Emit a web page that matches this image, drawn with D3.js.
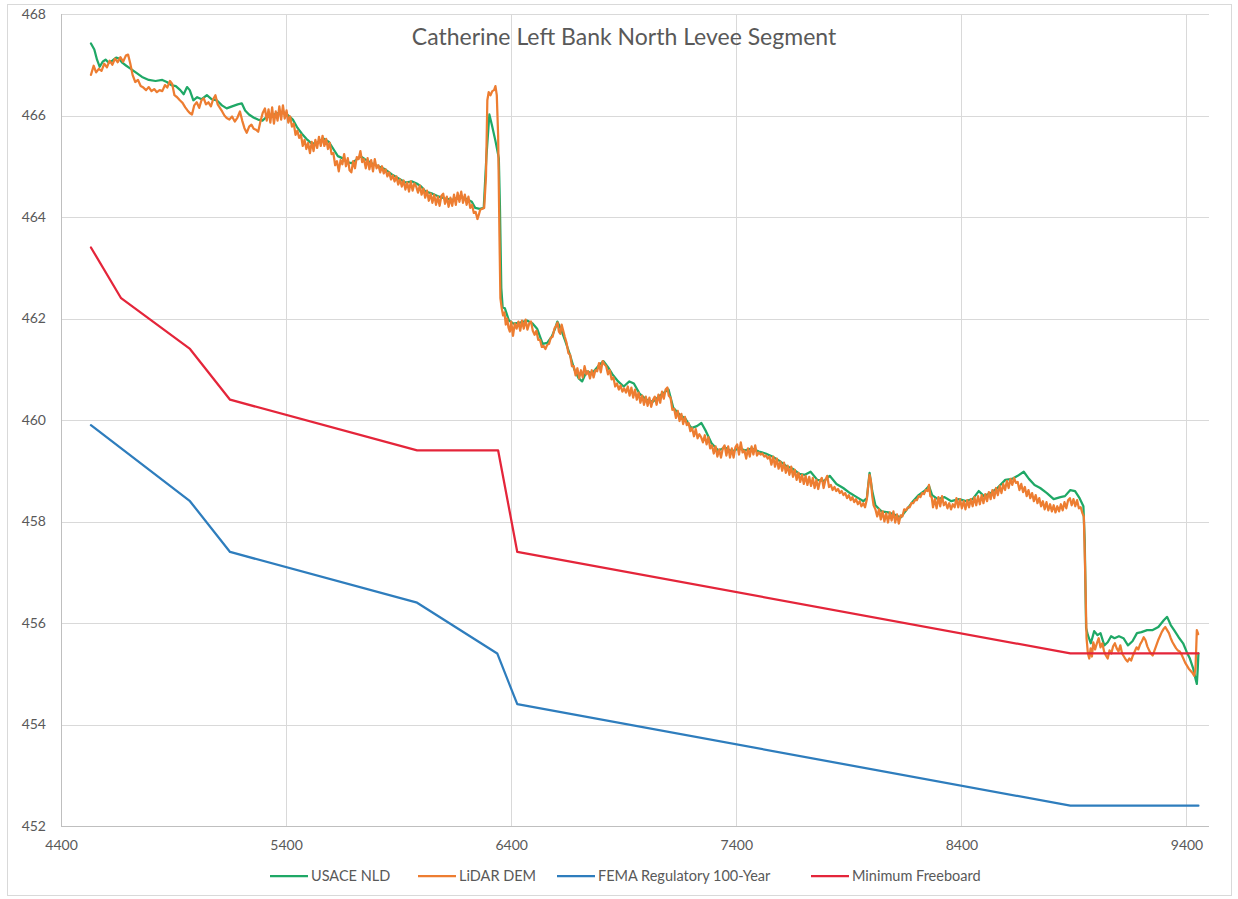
<!DOCTYPE html>
<html>
<head>
<meta charset="utf-8">
<script src="https://cdn.jsdelivr.net/npm/d3@7"></script>
<style>
  html, body { margin: 0; padding: 0; background: #ffffff; }
  svg text { font-family: Lato, "Open Sans", "Liberation Sans", sans-serif; }
</style>
</head>
<body>
<svg id="chart" width="1238" height="899"></svg>
<script>
const chartTitle = "Catherine Left Bank North Levee Segment";
const seriesNames = ["USACE NLD", "LiDAR DEM", "FEMA Regulatory 100-Year", "Minimum Freeboard"];
const xTicks = [4400, 5400, 6400, 7400, 8400, 9400];
const yTicks = [452, 454, 456, 458, 460, 462, 464, 466, 468];

const usaceNld = [
[4533,467.42],[4548,467.30],[4560,467.10],[4572,466.96],[4585,467.06],[4598,467.10],[4612,467.04],[4628,467.08],[4645,467.14],[4658,467.12],[4672,467.04],[4690,466.98],[4710,466.92],[4735,466.84],[4760,466.76],[4790,466.70],[4820,466.68],[4850,466.70],[4870,466.66],[4890,466.60],[4910,466.58],[4930,466.50],[4945,466.42],[4960,466.56],[4972,466.50],[4988,466.30],[5005,466.36],[5025,466.32],[5048,466.40],[5070,466.32],[5092,466.30],[5115,466.20],[5136,466.14],[5160,466.18],[5185,466.22],[5203,466.24],[5218,466.10],[5235,466.02],[5255,465.96],[5275,465.92],[5295,465.90],[5310,465.96],[5330,466.00],[5360,466.04],[5390,466.06],[5410,466.00],[5430,465.92],[5450,465.76],[5470,465.64],[5490,465.54],[5510,465.46],[5530,465.44],[5550,465.50],[5570,465.54],[5590,465.48],[5610,465.34],[5630,465.20],[5650,465.16],[5670,465.08],[5690,465.06],[5710,465.12],[5730,465.20],[5750,465.14],[5780,465.06],[5810,465.00],[5840,464.94],[5870,464.84],[5900,464.76],[5930,464.68],[5960,464.70],[5980,464.66],[6000,464.60],[6020,464.50],[6050,464.46],[6080,464.40],[6110,464.36],[6140,464.34],[6170,464.40],[6200,464.36],[6225,464.30],[6240,464.18],[6260,464.16],[6278,464.18],[6290,465.20],[6303,466.02],[6315,465.80],[6330,465.50],[6345,465.16],[6350,464.20],[6356,462.60],[6362,462.22],[6372,462.20],[6390,461.96],[6410,461.90],[6440,461.92],[6470,461.96],[6495,461.90],[6515,461.80],[6540,461.50],[6560,461.52],[6580,461.64],[6595,461.80],[6605,461.94],[6620,461.80],[6640,461.56],[6660,461.30],[6680,461.00],[6700,460.82],[6715,460.76],[6735,460.96],[6760,460.92],[6790,461.08],[6810,461.16],[6830,461.04],[6850,460.90],[6875,460.76],[6900,460.66],[6925,460.76],[6945,460.72],[6970,460.52],[7000,460.40],[7030,460.36],[7060,460.48],[7085,460.56],[7099,460.60],[7120,460.24],[7150,460.10],[7175,460.02],[7200,459.84],[7225,459.88],[7245,459.94],[7265,459.78],[7290,459.54],[7320,459.40],[7350,459.46],[7380,459.38],[7410,459.44],[7440,459.40],[7470,459.44],[7500,459.38],[7530,459.34],[7560,459.28],[7590,459.20],[7620,459.10],[7650,459.04],[7680,458.94],[7705,458.92],[7730,458.98],[7760,458.82],[7790,458.80],[7815,458.90],[7845,458.74],[7875,458.66],[7905,458.56],[7935,458.48],[7965,458.40],[7980,458.46],[7992,458.96],[8004,458.60],[8018,458.32],[8045,458.20],[8075,458.18],[8100,458.14],[8130,458.08],[8158,458.24],[8185,458.40],[8210,458.52],[8240,458.62],[8256,458.70],[8270,458.52],[8295,458.44],[8325,458.48],[8355,458.40],[8390,458.44],[8420,458.40],[8450,458.44],[8477,458.60],[8500,458.50],[8530,458.56],[8560,458.66],[8595,458.82],[8625,458.84],[8650,458.90],[8677,458.98],[8700,458.84],[8725,458.72],[8750,458.66],[8780,458.56],[8810,458.44],[8840,458.48],[8860,458.50],[8884,458.62],[8905,458.60],[8925,458.46],[8942,458.30],[8948,457.60],[8954,455.90],[8962,455.76],[8975,455.60],[8990,455.84],[9005,455.76],[9018,455.80],[9035,455.56],[9050,455.62],[9065,455.74],[9080,455.70],[9100,455.74],[9120,455.70],[9140,455.56],[9160,455.64],[9180,455.80],[9200,455.82],[9225,455.86],[9250,455.86],[9275,455.92],[9300,456.06],[9314,456.12],[9330,455.96],[9345,455.86],[9365,455.72],[9385,455.60],[9400,455.44],[9415,455.30],[9430,455.10],[9440,454.90],[9446,454.80],[9450,455.10],[9453,455.40]
];

const lidarDem = [
[4533,466.80],[4545,466.98],[4556,466.85],[4568,466.92],[4580,466.88],[4592,467.02],[4604,466.95],[4616,467.08],[4628,467.00],[4640,467.12],[4652,467.05],[4664,467.15],[4676,467.06],[4688,467.18],[4698,467.20],[4708,467.02],[4718,466.80],[4730,466.66],[4742,466.70],[4754,466.58],[4766,466.55],[4778,466.50],[4790,466.56],[4802,466.48],[4814,466.52],[4826,466.46],[4838,466.50],[4850,466.48],[4862,466.60],[4872,466.55],[4884,466.68],[4894,466.62],[4904,466.40],[4916,466.36],[4928,466.30],[4940,466.25],[4952,466.16],[4962,466.10],[4972,466.05],[4982,466.02],[4992,466.20],[5003,466.26],[5014,466.15],[5024,466.30],[5034,466.34],[5044,466.22],[5055,466.26],[5066,466.18],[5076,466.32],[5086,466.40],[5096,466.22],[5106,466.15],[5116,466.08],[5126,466.00],[5136,465.95],[5148,465.92],[5160,465.98],[5172,465.88],[5184,465.96],[5195,466.08],[5205,465.90],[5215,465.75],[5225,465.66],[5236,465.78],[5246,465.82],[5256,465.74],[5266,465.72],[5276,465.68],[5286,465.88],[5296,466.05],
[5306,466.14],[5314,465.90],[5322,466.12],[5330,465.86],[5338,466.16],[5346,465.84],[5354,466.08],[5362,465.90],[5370,466.18],[5378,465.92],[5386,466.20],[5394,465.94],[5402,466.10],[5410,465.86],[5418,465.98],[5426,465.78],[5434,465.84],[5442,465.62],[5450,465.70],[5458,465.56],[5466,465.62],[5474,465.40],[5482,465.52],[5490,465.34],[5498,465.46],[5506,465.26],[5514,465.48],[5522,465.30],[5530,465.52],[5538,465.36],[5546,465.58],[5554,465.40],[5562,465.60],[5570,465.40],[5578,465.54],[5586,465.34],[5594,465.46],[5602,465.24],[5610,465.26],[5618,465.02],[5626,465.10],[5634,464.90],[5642,465.12],[5650,465.04],[5658,465.24],[5666,465.00],[5674,465.16],[5682,464.92],[5690,464.88],[5698,465.10],[5706,464.96],[5714,465.18],[5722,465.14],[5730,465.30],[5738,465.08],[5746,465.14],[5754,464.96],[5762,465.16],[5770,464.94],[5778,465.12],[5786,464.90],[5794,465.14],[5802,464.96],[5810,465.02],[5818,464.88],[5826,465.00],[5834,464.86],[5842,464.94],[5850,464.80],[5858,464.88],[5866,464.74],[5874,464.82],[5882,464.70],[5890,464.80],[5898,464.64],[5906,464.74],[5914,464.60],[5922,464.72],[5930,464.54],[5938,464.68],[5946,464.50],[5954,464.70],[5962,464.52],[5970,464.66],[5978,464.60],[5986,464.48],[5994,464.62],[6002,464.44],[6010,464.56],[6018,464.38],[6026,464.52],[6034,464.32],[6042,464.46],[6050,464.28],[6058,464.44],[6066,464.24],[6074,464.40],[6082,464.22],[6090,464.42],[6098,464.46],[6106,464.26],[6114,464.40],[6122,464.20],[6130,464.38],[6138,464.22],[6146,464.44],[6154,464.24],[6162,464.48],[6170,464.30],[6178,464.50],[6186,464.28],[6194,464.44],[6202,464.24],[6210,464.40],[6218,464.18],[6226,464.24],[6234,464.08],[6242,464.10],[6250,463.96],
[6256,464.04],[6262,464.14],[6270,464.16],[6280,464.18],[6288,464.80],[6294,466.30],[6300,466.46],[6308,466.40],[6316,466.48],[6324,466.50],[6330,466.58],[6336,466.40],[6342,465.60],[6348,463.60],[6352,462.40],[6358,462.20],[6364,462.06],[6370,462.12],[6376,461.88],[6382,462.00],[6388,461.82],[6394,461.74],[6400,461.94],[6408,461.66],[6416,461.90],[6424,461.80],[6432,461.94],[6440,461.76],[6448,461.96],[6456,461.80],[6464,461.98],[6472,461.78],[6480,461.90],[6488,461.94],[6496,461.76],[6504,461.68],[6512,461.76],[6520,461.58],[6528,461.58],[6536,461.44],[6544,461.46],[6552,461.40],[6560,461.48],[6568,461.50],[6576,461.62],[6584,461.64],[6592,461.80],[6600,461.86],[6606,461.92],[6612,461.74],[6618,461.70],[6624,461.88],[6630,461.78],[6638,461.64],
[6646,461.52],[6654,461.32],[6662,461.28],[6670,461.06],[6678,461.06],[6686,460.88],[6694,461.02],[6702,460.82],[6710,460.98],[6718,460.84],[6726,461.06],[6734,460.90],[6742,460.96],[6750,460.82],[6758,460.98],[6766,460.84],[6774,460.98],[6782,460.96],[6790,461.12],[6798,460.94],[6806,461.16],[6814,461.10],[6822,461.06],[6830,460.90],[6838,460.98],[6846,460.80],[6854,460.84],[6862,460.66],[6870,460.72],[6878,460.60],[6886,460.68],[6894,460.56],[6902,460.62],[6910,460.54],[6918,460.66],[6926,460.48],[6934,460.64],[6942,460.44],[6950,460.60],[6958,460.40],[6966,460.54],[6974,460.34],[6982,460.48],[6990,460.30],[6998,460.46],[7006,460.28],[7014,460.44],[7022,460.26],[7030,460.40],[7038,460.46],[7046,460.30],[7054,460.50],[7062,460.34],[7070,460.56],[7078,460.42],[7086,460.60],[7094,460.64],[7100,460.48],[7108,460.44],[7116,460.20],[7124,460.22],[7132,460.04],[7140,460.18],[7148,459.98],[7156,460.12],[7164,459.92],[7172,460.06],[7180,459.90],[7188,459.94],[7196,459.78],[7204,459.84],[7212,459.68],[7220,459.82],[7228,459.64],[7236,459.72],[7244,459.66],[7252,459.56],[7260,459.70],[7268,459.52],[7276,459.66],[7284,459.44],[7292,459.50],[7300,459.34],[7308,459.48],[7316,459.28],[7324,459.42],[7332,459.26],[7340,459.44],[7348,459.50],[7356,459.30],[7364,459.48],[7372,459.26],[7380,459.44],[7388,459.26],[7396,459.46],[7404,459.52],[7412,459.32],[7420,459.56],[7428,459.36],[7436,459.40],[7444,459.24],[7452,459.44],[7460,459.28],[7468,459.48],[7476,459.32],[7484,459.50],[7492,459.30],[7500,459.36],[7508,459.32],[7516,459.34],[7524,459.28],[7532,459.30],[7540,459.24],[7548,459.28],[7556,459.12],[7564,459.28],[7572,459.08],[7580,459.24],[7588,459.04],[7596,459.18],[7604,459.00],[7612,459.16],[7620,458.96],[7628,459.10],[7636,458.92],[7644,459.08],[7652,458.88],[7660,459.02],[7668,458.82],[7676,458.96],[7684,458.78],[7692,458.92],[7700,458.74],[7708,458.90],[7716,458.72],[7724,458.88],[7732,458.70],[7740,458.86],[7748,458.66],[7756,458.82],[7764,458.64],[7772,458.80],[7780,458.86],[7788,458.66],[7796,458.82],[7804,458.90],[7812,458.68],[7820,458.72],[7828,458.62],[7836,458.68],[7844,458.60],[7852,458.64],[7860,458.56],[7868,458.60],[7876,458.52],[7884,458.56],[7892,458.46],[7900,458.52],[7908,458.42],[7916,458.48],[7924,458.38],[7932,458.44],[7940,458.34],[7948,458.40],[7956,458.30],[7964,458.36],[7972,458.28],[7980,458.44],
[7986,458.70],[7992,458.92],[7998,458.80],[8004,458.50],[8010,458.32],[8018,458.24],[8026,458.10],[8034,458.24],[8042,458.04],[8050,458.20],[8058,458.00],[8066,458.16],[8074,457.98],[8082,458.18],[8090,458.02],[8098,458.20],[8106,457.98],[8114,458.14],[8122,457.96],[8130,458.12],[8138,458.10],[8146,458.24],[8154,458.22],[8162,458.28],[8170,458.28],[8178,458.36],[8186,458.36],[8194,458.42],[8202,458.42],[8210,458.50],[8218,458.48],[8226,458.56],[8234,458.54],[8242,458.62],[8250,458.60],[8256,458.72],
[8262,458.50],[8268,458.48],[8274,458.28],[8282,458.44],[8290,458.26],[8298,458.48],[8306,458.30],[8314,458.50],[8322,458.32],[8330,458.38],[8338,458.26],[8346,458.36],[8354,458.24],[8362,458.34],[8370,458.28],[8378,458.46],[8386,458.28],[8394,458.44],[8402,458.26],[8410,458.40],[8418,458.24],[8426,458.42],[8434,458.28],[8442,458.44],[8450,458.30],[8458,458.48],[8466,458.32],[8474,458.50],[8482,458.34],[8490,458.52],[8498,458.36],[8506,458.54],[8514,458.40],[8522,458.58],[8530,458.44],[8538,458.62],[8546,458.46],[8554,458.66],[8562,458.52],[8570,458.70],[8578,458.56],[8586,458.74],[8594,458.62],[8602,458.80],[8610,458.66],[8618,458.84],[8626,458.72],[8634,458.86],[8642,458.76],[8650,458.78],[8658,458.62],[8666,458.74],[8674,458.58],[8682,458.68],[8690,458.50],[8698,458.62],[8706,458.46],[8714,458.56],[8722,458.40],[8730,458.52],[8738,458.36],[8746,458.46],[8754,458.30],[8762,458.40],[8770,458.24],[8778,458.38],[8786,458.22],[8794,458.34],[8802,458.20],[8810,458.32],[8818,458.18],[8826,458.30],[8834,458.20],[8842,458.34],[8850,458.22],[8858,458.38],[8866,458.26],[8874,458.42],[8882,458.46],[8890,458.32],[8898,458.44],[8906,458.30],[8914,458.42],[8922,458.26],[8930,458.28],[8938,458.16],[8944,458.10],
[8950,457.00],[8956,455.70],[8962,455.40],[8968,455.30],[8974,455.50],[8980,455.34],[8986,455.62],[8994,455.48],[9002,455.60],[9010,455.70],[9018,455.52],[9026,455.60],[9034,455.44],[9042,455.36],[9050,455.30],[9058,455.46],[9066,455.40],[9074,455.54],[9082,455.60],[9090,455.50],[9098,455.44],[9106,455.56],[9114,455.40],[9122,455.34],[9130,455.28],[9138,455.24],[9146,455.30],[9154,455.26],[9162,455.36],[9170,455.44],[9178,455.52],[9186,455.48],[9194,455.58],[9202,455.64],[9210,455.72],[9218,455.66],[9226,455.54],[9234,455.46],[9242,455.40],[9250,455.36],[9258,455.46],[9266,455.56],[9274,455.66],[9282,455.74],[9290,455.82],[9298,455.88],[9306,455.92],[9314,455.86],[9322,455.80],[9330,455.70],[9338,455.62],[9346,455.56],[9354,455.50],[9362,455.46],[9370,455.44],[9378,455.38],[9386,455.30],[9394,455.22],[9402,455.16],[9410,455.10],[9418,455.06],[9426,455.02],[9434,454.96],[9440,455.10],[9446,455.86],[9452,455.78]
];

const femaRegulatory = [
[4533,459.90],[4973,458.40],[5151,457.40],[5982,456.40],[6338,455.40],[6427,454.40],[8884,452.40],[9453,452.40]
];

const minimumFreeboard = [
[4533,463.40],[4667,462.40],[4973,461.40],[5151,460.40],[5982,459.40],[6342,459.40],[6427,457.40],[8884,455.40],[9453,455.40]
];

const seriesColors = ["#1fa866", "#ed7d31", "#2e7dbd", "#e4253a"];

const svg = d3.select("#chart");
const W = 1238, H = 899;
const plot = { left: 61, right: 1209, top: 14, bottom: 826 };

svg.append("rect").attr("x", 0).attr("y", 0).attr("width", W).attr("height", H).attr("fill", "#ffffff");
svg.append("rect").attr("x", 7.5).attr("y", 4.5).attr("width", 1224).attr("height", 891)
  .attr("fill", "none").attr("stroke", "#d9d9d9").attr("stroke-width", 1);

const x = d3.scaleLinear().domain([4400, 9500]).range([plot.left, plot.right]);
const y = d3.scaleLinear().domain([452, 468]).range([plot.bottom, plot.top]);

// gridlines
const grid = svg.append("g");
grid.selectAll("line.h").data(yTicks).join("line")
  .attr("x1", plot.left).attr("x2", plot.right)
  .attr("y1", d => Math.round(y(d)) + 0.5).attr("y2", d => Math.round(y(d)) + 0.5)
  .attr("stroke", d => d === 452 ? "#bfbfbf" : "#d9d9d9").attr("stroke-width", 1);
grid.selectAll("line.v").data(xTicks).join("line")
  .attr("y1", plot.top).attr("y2", plot.bottom)
  .attr("x1", d => Math.round(x(d)) + 0.5).attr("x2", d => Math.round(x(d)) + 0.5)
  .attr("stroke", d => d === 4400 ? "#bfbfbf" : "#d9d9d9").attr("stroke-width", 1);

// axes labels via d3 axes
const yAxis = d3.axisLeft(y).tickValues(yTicks).tickSize(0).tickPadding(15).tickFormat(d3.format("d"));
const gy = svg.append("g").attr("transform", `translate(${plot.left},0)`).call(yAxis);
gy.select(".domain").remove();
gy.selectAll("text").attr("fill", "#595959").style("font-size", "14px");

const xAxis = d3.axisBottom(x).tickValues(xTicks).tickSize(0).tickPadding(14).tickFormat(d3.format("d"));
const gx = svg.append("g").attr("transform", `translate(0,${plot.bottom})`).call(xAxis);
gx.select(".domain").remove();
gx.selectAll("text").attr("fill", "#595959").style("font-size", "14px");

// title
svg.append("text").attr("x", 624).attr("y", 45).attr("text-anchor", "middle")
  .attr("fill", "#595959").style("font-size", "23px").text(chartTitle);

// lines
const line = d3.line().x(d => x(d[0])).y(d => y(d[1]));
const allSeries = [usaceNld, lidarDem, femaRegulatory, minimumFreeboard];
svg.append("g").selectAll("path").data(allSeries).join("path")
  .attr("d", d => line(d))
  .attr("fill", "none")
  .attr("stroke", (d, i) => seriesColors[i])
  .attr("stroke-width", 2.25)
  .attr("stroke-linejoin", "round")
  .attr("stroke-linecap", "round");

// legend
const legendX = [270, 418, 557, 811];
const lg = svg.append("g").attr("transform", "translate(0,876)");
seriesNames.forEach((name, i) => {
  lg.append("line").attr("x1", legendX[i]).attr("x2", legendX[i] + 38).attr("y1", 0).attr("y2", 0)
    .attr("stroke", seriesColors[i]).attr("stroke-width", 2.25);
  lg.append("text").attr("x", legendX[i] + 41).attr("y", 0).attr("dy", "0.35em")
    .attr("fill", "#595959").style("font-size", "14.5px").text(name);
});
</script>
</body>
</html>
